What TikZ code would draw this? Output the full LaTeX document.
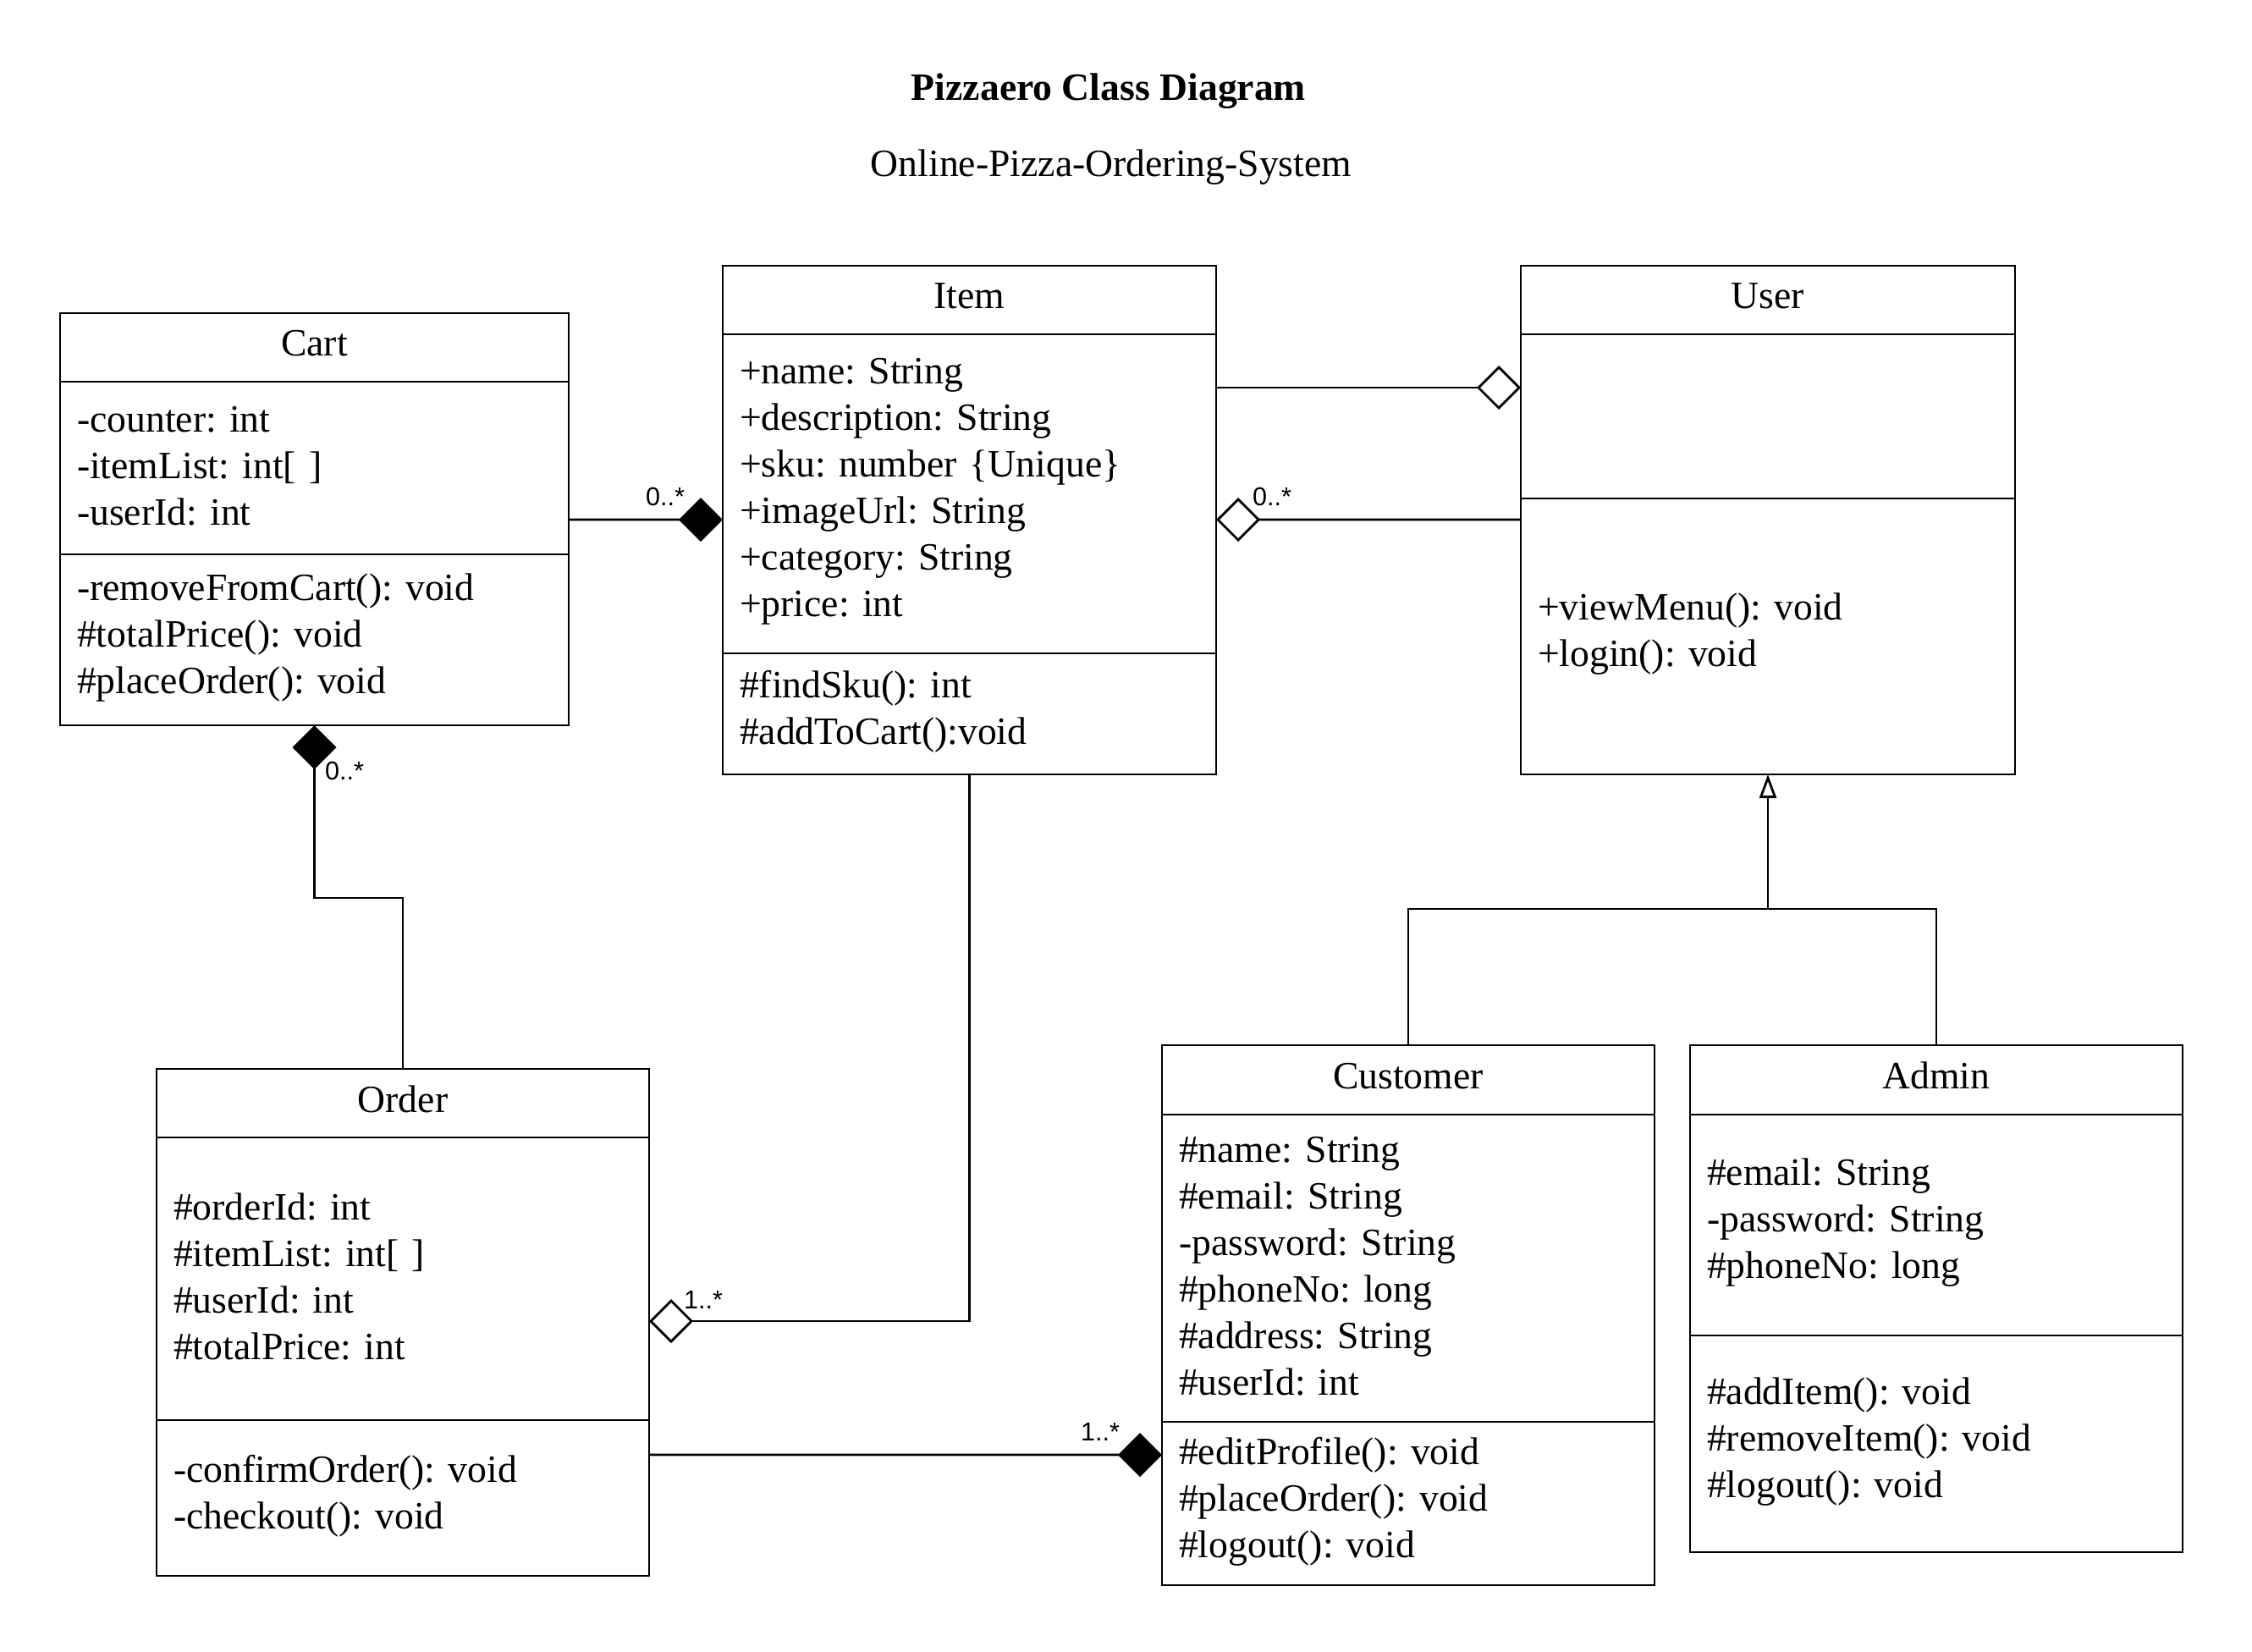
\documentclass[tikz,border=0pt]{standalone}
\usepackage{fontspec}
\setmainfont{Liberation Serif}
\newfontfamily\labelfont{Liberation Sans}
\usepackage{xcolor}
\usepackage{tikz}
\usetikzlibrary{arrows.meta}

\newcommand{\clsfont}{\fontsize{13}{15.65}\selectfont}
\newcommand{\multfont}{\labelfont\fontsize{8.7}{10}\selectfont}
\frenchspacing

\tikzset{
    compos/.tip={Diamond[length=0.52cm,width=0.52cm]},
    aggreg/.tip={Diamond[open,fill=white,length=0.52cm,width=0.52cm]},
    genrl/.tip={Triangle[open,fill=white,length=0.28cm,width=0.2cm]},
    umlhead/.style={draw, line width=0.8pt, anchor=north west, outer sep=0pt,
        inner sep=0pt, minimum width=#1, text depth=2.8pt, font=\clsfont},
    umlbody/.style={draw, line width=0.8pt, anchor=north west, outer sep=0pt,
        inner xsep=0.2cm, inner ysep=0pt, text width=#1, align=left, font=\clsfont,
        execute at end node={\par\vspace{1.5pt}}},
    mult/.style={font=\multfont, inner sep=0pt},
    link/.style={line width=0.8pt}
}

\begin{document}
\begin{tikzpicture}
    \useasboundingbox (0,0) rectangle (26.61,-19.51);

    % Titre du diagramme
    \node[font=\clsfont\bfseries] (title) at (13.10,-1.08) {Pizzaero Class Diagram};
    \node[font=\clsfont] (subtitle) at (13.13,-1.98) {Online-Pizza-Ordering-System};

    % Classe Cart
    \node[umlhead=6.01cm, minimum height=0.81cm] (cart) at (0.71,-3.70) {Cart};
    \node[umlbody=5.61cm, minimum height=2.04cm] (cart-attr) at (0.71,-4.51)
        {-counter: int\\-itemList: int[ ]\\-userId: int};
    \node[umlbody=5.61cm, minimum height=2.02cm] (cart-ops) at (0.71,-6.55)
        {-removeFromCart(): void\\\#totalPrice(): void\\\#placeOrder(): void};

    % Classe Item
    \node[umlhead=5.83cm, minimum height=0.81cm] (item) at (8.54,-3.14) {Item};
    \node[umlbody=5.43cm, minimum height=3.77cm] (item-attr) at (8.54,-3.95)
        {+name: String\\+description: String\\+sku: number \{Unique\}\\+imageUrl: String\\+category: String\\+price: int};
    \node[umlbody=5.43cm, minimum height=1.43cm] (item-ops) at (8.54,-7.72)
        {\#findSku(): int\\\#addToCart():void};

    % Classe User
    \node[umlhead=5.84cm, minimum height=0.81cm] (user) at (17.97,-3.14) {User};
    \node[umlbody=5.44cm, minimum height=1.94cm] (user-attr) at (17.97,-3.95) {};
    \node[umlbody=5.44cm, minimum height=3.26cm] (user-ops) at (17.97,-5.89)
        {+viewMenu(): void\\+login(): void};

    % Classe Order
    \node[umlhead=5.82cm, minimum height=0.81cm] (order) at (1.85,-12.63) {Order};
    \node[umlbody=5.42cm, minimum height=3.34cm] (order-attr) at (1.85,-13.44)
        {\#orderId: int\\\#itemList: int[ ]\\\#userId: int\\\#totalPrice: int};
    \node[umlbody=5.42cm, minimum height=1.84cm] (order-ops) at (1.85,-16.78)
        {-confirmOrder(): void\\-checkout(): void};

    % Classe Customer
    \node[umlhead=5.82cm, minimum height=0.82cm] (customer) at (13.73,-12.35) {Customer};
    \node[umlbody=5.42cm, minimum height=3.63cm] (customer-attr) at (13.73,-13.17)
        {\#name: String\\\#email: String\\-password: String\\\#phoneNo: long\\\#address: String\\\#userId: int};
    \node[umlbody=5.42cm, minimum height=1.93cm] (customer-ops) at (13.73,-16.80)
        {\#editProfile(): void\\\#placeOrder(): void\\\#logout(): void};

    % Classe Admin
    \node[umlhead=5.82cm, minimum height=0.82cm] (admin) at (19.97,-12.35) {Admin};
    \node[umlbody=5.42cm, minimum height=2.61cm] (admin-attr) at (19.97,-13.17)
        {\#email: String\\-password: String\\\#phoneNo: long};
    \node[umlbody=5.42cm, minimum height=2.56cm] (admin-ops) at (19.97,-15.78)
        {\#addItem(): void\\\#removeItem(): void\\\#logout(): void};

    % Associations
    \draw[link,-compos] ([yshift=-6.1mm]cart-attr.east) -- ([yshift=-3.05mm]item-attr.west);
    \draw[link,-aggreg] ([yshift=12.55mm]item-attr.east) -- ([yshift=3.4mm]user-attr.west);
    \draw[link,-aggreg] ([yshift=13.8mm]user-ops.west) -- ([yshift=-3.05mm]item-attr.east);
    \draw[link,compos-] (cart-ops.south) -- ++(0,-2.04) -| (order.north);
    \draw[link,-aggreg] (item-ops.south) |- ([yshift=-5mm]order-attr.east);
    \draw[link,-compos] ([yshift=5.1mm]order-ops.east) -- ([yshift=5.75mm]customer-ops.west);

    % Multiplicites
    \node[mult] (m-cart-item) at (7.86,-5.87) {0..*};
    \node[mult] (m-user-item) at (15.03,-5.87) {0..*};
    \node[mult] (m-cart-order) at (4.07,-9.11) {0..*};
    \node[mult] (m-item-order) at (8.31,-15.36) {1..*};
    \node[mult] (m-order-cust) at (13.00,-16.92) {1..*};

    % Heritage
    \coordinate (fork) at ([yshift=-15.9mm]user-ops.south);
    \draw[link] (customer.north) -- ++(0,1.61) -| (admin.north);
    \draw[link,-genrl] (fork) -- (user-ops.south);
\end{tikzpicture}
\end{document}
